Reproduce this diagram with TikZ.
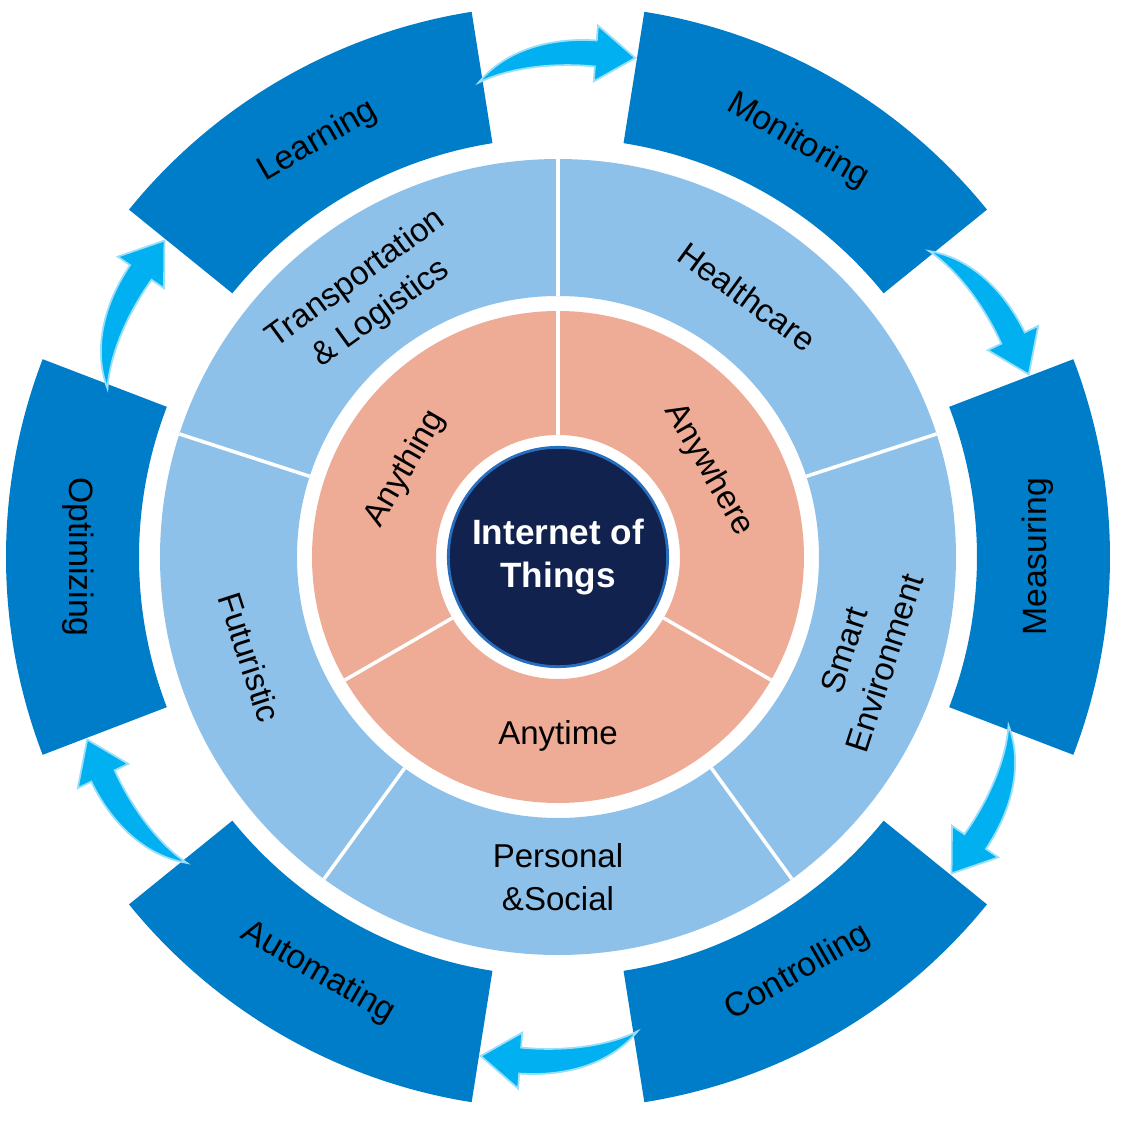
\documentclass[tikz,border=0pt]{standalone}
\usepackage{fontspec}
\setmainfont{Liberation Sans}

\definecolor{blockblue}{RGB}{0,125,201}
\definecolor{ringblue}{RGB}{142,193,233}
\definecolor{coresalmon}{RGB}{238,171,149}
\definecolor{corenavy}{RGB}{17,34,78}
\definecolor{navyrim}{RGB}{40,110,190}
\definecolor{arrowcyan}{RGB}{0,176,240}

\begin{document}
\begin{tikzpicture}[x=0.01cm, y=0.01cm,
        block/.style={fill=blockblue},
        ring/.style={fill=ringblue, even odd rule},
        core/.style={fill=coresalmon, even odd rule},
        divider/.style={white, line width=1pt},
        cyclearrow/.style={fill=arrowcyan, draw=arrowcyan!40!white, line width=0.5pt},
        outerlabel/.style={font=\fontsize{9.6}{11.5}\selectfont},
        ringlabel/.style={font=\fontsize{9.4}{12.2}\selectfont, align=center},
        corelabel/.style={font=\fontsize{9.4}{11}\selectfont}]

        \useasboundingbox (-558,-566) rectangle (565,557);

        % outer blocks
        \fill[block] (99:552) arc[start angle=99, end angle=141, radius=552] -- (141:419) arc[start angle=141, end angle=99, radius=419] -- cycle;
        \fill[block] (39:552) arc[start angle=39, end angle=81, radius=552] -- (81:419) arc[start angle=81, end angle=39, radius=419] -- cycle;
        \fill[block] (-21:552) arc[start angle=-21, end angle=21, radius=552] -- (21:419) arc[start angle=21, end angle=-21, radius=419] -- cycle;
        \fill[block] (-81:552) arc[start angle=-81, end angle=-39, radius=552] -- (-39:419) arc[start angle=-39, end angle=-81, radius=419] -- cycle;
        \fill[block] (-141:552) arc[start angle=-141, end angle=-99, radius=552] -- (-99:419) arc[start angle=-99, end angle=-141, radius=419] -- cycle;
        \fill[block] (159:552) arc[start angle=159, end angle=201, radius=552] -- (201:419) arc[start angle=201, end angle=159, radius=419] -- cycle;

        % arrows between the blocks
        \filldraw[cyclearrow] (99.5:481) .. controls (96:509) and (91:520) .. (85.7:518) -- (85.7:533) -- (81.2:505) -- (85.7:477) -- (85.7:492) .. controls (91:495) and (96:491) .. cycle;
        \filldraw[cyclearrow] (39.5:481) .. controls (36:509) and (31:520) .. (25.7:518) -- (25.7:533) -- (21.2:505) -- (25.7:477) -- (25.7:492) .. controls (31:495) and (36:491) .. cycle;
        \filldraw[cyclearrow] (-20.5:481) .. controls (-24:509) and (-29:520) .. (-34.3:518) -- (-34.3:533) -- (-38.8:505) -- (-34.3:477) -- (-34.3:492) .. controls (-29:495) and (-24:491) .. cycle;
        \filldraw[cyclearrow] (-80.5:481) .. controls (-84:509) and (-89:520) .. (-94.3:518) -- (-94.3:533) -- (-98.8:505) -- (-94.3:477) -- (-94.3:492) .. controls (-89:495) and (-84:491) .. cycle;
        \filldraw[cyclearrow] (-140.5:481) .. controls (-144:509) and (-149:520) .. (-154.3:518) -- (-154.3:533) -- (-158.8:505) -- (-154.3:477) -- (-154.3:492) .. controls (-149:495) and (-144:491) .. cycle;
        \filldraw[cyclearrow] (159.5:481) .. controls (156:509) and (151:520) .. (145.7:518) -- (145.7:533) -- (141.2:505) -- (145.7:477) -- (145.7:492) .. controls (151:495) and (156:491) .. cycle;

        % application ring
        \fill[ring] (0,0) circle[radius=398] (0,0) circle[radius=261];
        \draw[divider] (18:261) -- (18:398);
        \draw[divider] (90:261) -- (90:398);
        \draw[divider] (162:261) -- (162:398);
        \draw[divider] (234:261) -- (234:398);
        \draw[divider] (306:261) -- (306:398);

        % any-ring
        \fill[core] (0,0) circle[radius=246] (0,0) circle[radius=122];
        \draw[divider] (90:122) -- (90:246);
        \draw[divider] (210:122) -- (210:246);
        \draw[divider] (330:122) -- (330:246);

        \node (iot) [circle, fill=corenavy, draw=navyrim, line width=0.8pt, minimum size=2.08cm,
            text=white, align=center, font=\fontsize{10}{12.3}\selectfont\bfseries] at (0,0) {Internet of\\Things};

        \node (learning) [outerlabel, rotate=30] at (120:480) {Learning};
        \node (monitoring) [outerlabel, rotate=-30] at (60:480) {Monitoring};
        \node (measuring) [outerlabel, rotate=90] at (0:480) {Measuring};
        \node (controlling) [outerlabel, rotate=30] at (-60:480) {Controlling};
        \node (automating) [outerlabel, rotate=-30] at (-120:480) {Automating};
        \node (optimizing) [outerlabel, rotate=-90] at (180:480) {Optimizing};

        \node (transport) [ringlabel, rotate=36] at (126:322) {Transportation\\\& Logistics};
        \node (health) [ringlabel, rotate=-36] at (54:322) {Healthcare};
        \node (smartenv) [ringlabel, rotate=72] at (-18:322) {Smart\\Environment};
        \node (personal) [ringlabel] at (-90:320) {Personal\\\&Social};
        \node (futuristic) [ringlabel, rotate=-72] at (198:324) {Futuristic};

        \node (anything) [corelabel, rotate=60] at (150:176) {Anything};
        \node (anywhere) [corelabel, rotate=-60] at (30:174) {Anywhere};
        \node (anytime) [corelabel] at (-90:179) {Anytime};

        %\draw[red] (-558,-566) rectangle (565,557);
    \end{tikzpicture}
\end{document}
